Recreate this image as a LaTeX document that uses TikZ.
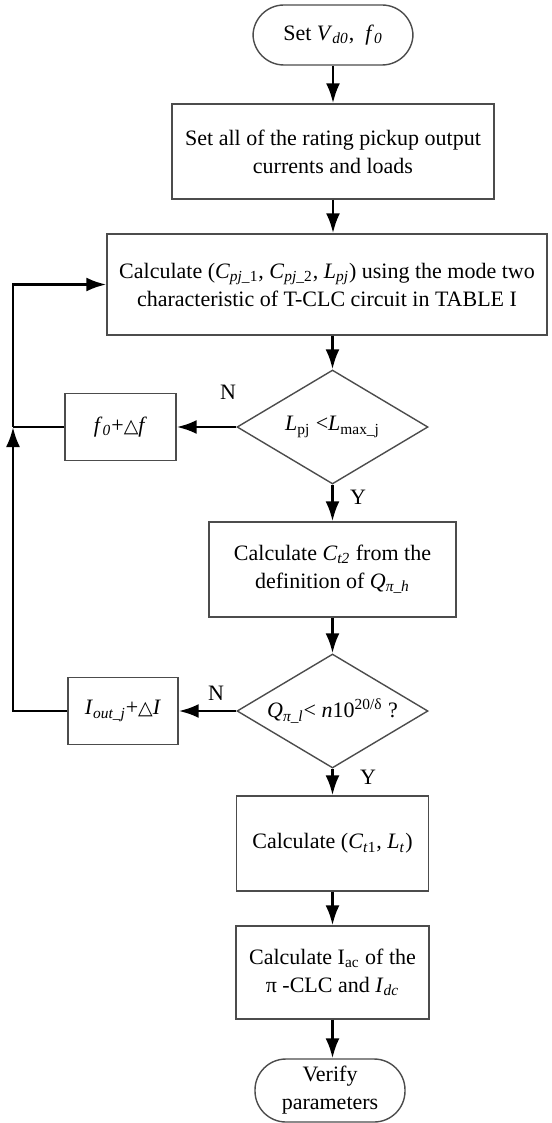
\documentclass[tikz,border=0pt]{standalone}
\usepackage{fontspec}
\setmainfont{Liberation Serif}
\newfontfamily\symfont{DejaVu Sans}
\usetikzlibrary{shapes.geometric, arrows.meta, positioning}
\newcommand{\tri}{{\symfont\fontsize{9.5}{11}\selectfont △}}
\newcommand{\isub}[2]{\textit{#1}\textsubscript{#2}}

\begin{document}
\begin{tikzpicture}[x=0.5pt, y=-0.5pt,
  font=\fontsize{11}{14}\selectfont,
  >={Latex[length=10pt,width=7pt]},
  box/.style={draw=black!70, line width=0.7pt, rectangle, align=center, inner sep=2pt},
  term/.style={box, rounded corners=15.5pt},
  cond/.style={draw=black!70, line width=0.7pt, diamond, aspect=1.68, inner sep=0pt, align=center},
  flow/.style={->, line width=1.4pt},
  loop/.style={line width=1.4pt},
  lbl/.style={inner sep=0pt}]
  \useasboundingbox (0,0) rectangle (551,1123);

  % main column
  \node[term, minimum width=80pt, minimum height=30pt] (start) at (333,35)
    {Set \isub{V}{\textit{d0}}, \ \isub{f}{\textit{0}}};
  \node[box, minimum width=161pt, minimum height=47.5pt] (setall) at (333,151.5)
    {Set all of the rating pickup output\\currents and loads};
  \node[box, minimum width=220pt, minimum height=50.5pt] (calc) at (327,284.5)
    {Calculate (\isub{C}{\textit{pj\_}1}, \isub{C}{\textit{pj\_}2}, \isub{L}{\textit{pj}}) using the mode two\\characteristic of T-CLC circuit in TABLE I};
  \node[cond, minimum width=95.5pt, minimum height=57pt] (dia1) at (332.5,427)
    {\isub{L}{pj} <\isub{L}{max\_j}};
  \node[box, minimum width=123.5pt, minimum height=47.5pt] (defq) at (332.5,569.5)
    {Calculate \isub{C}{\textit{t2}} from the\\definition of \isub{Q}{\textit{π\_h}}};
  \node[cond, minimum width=95.5pt, minimum height=57pt] (dia2) at (332.5,711)
    {\isub{Q}{\textit{π\_l}}< \textit{n}10\textsuperscript{20/δ} ?};
  \node[box, minimum width=96pt, minimum height=47.5pt] (ct) at (332.5,843.5)
    {Calculate (\isub{C}{\textit{t}1}, \isub{L}{\textit{t}})};
  \node[box, minimum width=96.5pt, minimum height=46.5pt] (iac) at (332.5,972.5)
    {Calculate I\textsubscript{ac} of the\\π -CLC and \isub{I}{\textit{dc}}};
  \node[term, minimum width=75pt, minimum height=31.5pt, inner sep=1pt] (verify) at (330,1090.5)
    {Verify\\parameters};

  % side boxes
  \node[box, minimum width=55.5pt, minimum height=33.5pt] (fbox) at (120.5,427)
    {\isub{f}{\textit{0}}+\tri\textit{f}};
  \node[box, minimum width=55pt, minimum height=33.5pt] (ibox) at (123,711)
    {\isub{I}{\textit{out\_j}}+\tri\textit{I}};
  \coordinate (jn) at (13,427);

  % labels
  \node[lbl] (n1) at (228,392) {N};
  \node[lbl] (y1) at (358,497) {Y};
  \node[lbl] (n2) at (216,693) {N};
  \node[lbl] (y2) at (368,777) {Y};

  % connectors
  \draw[flow] (start) -- (setall);
  \draw[flow] (setall.south) -- (setall.south |- calc.north);
  \draw[flow] (calc.south -| dia1.north) -- (dia1.north);
  \draw[flow] (dia1.west) -- (fbox.east);
  \draw[flow] (dia1.south) -- (defq.north);
  \draw[flow] (defq) -- (dia2);
  \draw[flow] (dia2.west) -- (ibox.east);
  \draw[flow] (dia2.south) -- (ct.north);
  \draw[flow] (ct) -- (iac);
  \draw[flow] (iac.south) -- (iac.south |- verify.north);
  \draw[loop] (fbox.west) -- (jn);
  \draw[flow] (ibox.west) -| (jn);
  \draw[flow] (jn) |- (calc.west);
\end{tikzpicture}
\end{document}
